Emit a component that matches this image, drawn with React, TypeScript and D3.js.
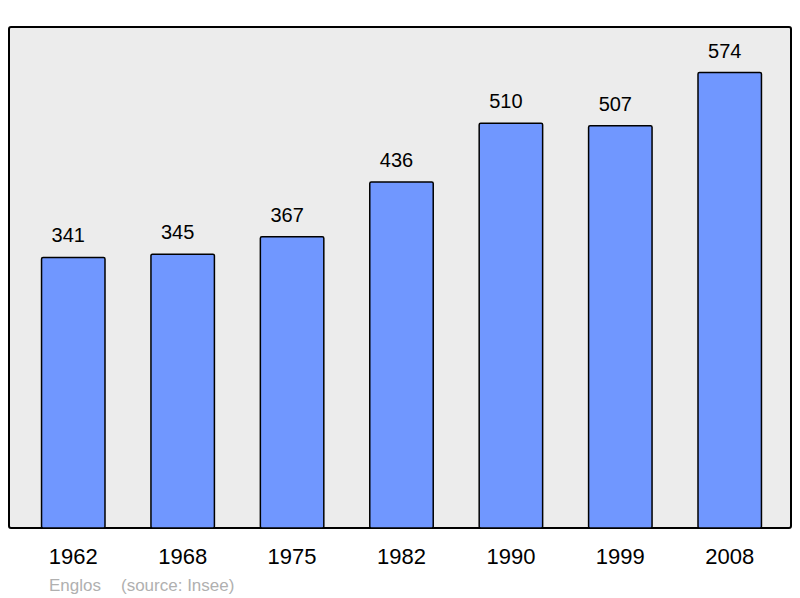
import React from 'react';
import * as d3 from 'd3';

const years = ['1962', '1968', '1975', '1982', '1990', '1999', '2008'];
const population = [341, 345, 367, 436, 510, 507, 574];
const commune = 'Englos';
const source = '(source: Insee)';

const width = 800;
const height = 598;
const panel = { left: 9, top: 27, right: 791, bottom: 528 };

const App: React.FC = () => {
  const x = d3.scaleBand<string>()
    .domain(years)
    .range([12, panel.right])
    .paddingInner(0.42)
    .paddingOuter(0.27);

  const y = d3.scaleLinear()
    .domain([0, (d3.max(population) || 0) * 1.1])
    .range([panel.bottom, panel.top]);

  const font = '"Liberation Sans", Arial, sans-serif';

  return (
    <svg width={width} height={height} style={{ position: 'absolute', left: 0, top: 0 }}>
      <rect x={0} y={0} width={width} height={height} fill="#ffffff" />
      <rect
        x={panel.left}
        y={panel.top}
        width={panel.right - panel.left}
        height={panel.bottom - panel.top}
        rx={2}
        fill="#ececec"
        stroke="#000"
        strokeWidth={2}
      />
      {population.map((v, i) => {
        const bx = x(years[i]) || 0;
        const top = y(v);
        const cx = bx + x.bandwidth() / 2;
        return (
          <g key={years[i]}>
            <rect
              x={bx}
              y={top}
              width={x.bandwidth()}
              height={panel.bottom - top}
              rx={1.5}
              fill="#7097ff"
              stroke="#000"
              strokeWidth={1.5}
            />
            {/* value labels sit a little left of the bar centre in the original */}
            <text x={cx - 5} y={top - 15} textAnchor="middle" fontFamily={font} fontSize={20} fill="#000">
              {v}
            </text>
            <text x={cx} y={564} textAnchor="middle" fontFamily={font} fontSize={22} fill="#000">
              {years[i]}
            </text>
          </g>
        );
      })}
      <text x={49} y={591} fontFamily={font} fontSize={17} fill="#b0b0b0">{commune}</text>
      <text x={121} y={591} fontFamily={font} fontSize={17} fill="#b0b0b0">{source}</text>
    </svg>
  );
};

export default App;
